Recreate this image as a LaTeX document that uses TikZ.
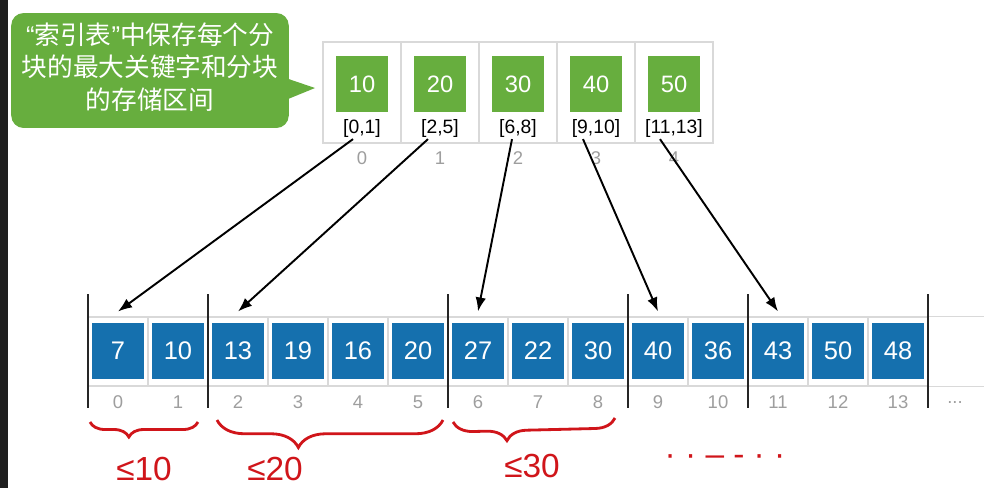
\documentclass[tikz,border=0pt]{standalone}
\usepackage{fontspec}
\setmainfont{Liberation Sans}
\newfontfamily\cjk{Noto Sans CJK SC}
\usetikzlibrary{positioning,arrows.meta,decorations.pathreplacing}
\definecolor{idxgreen}{HTML}{67AE3E}
\definecolor{blkblue}{HTML}{1570AE}
\definecolor{cellgray}{HTML}{D9D9D9}
\definecolor{numgray}{HTML}{9E9E9E}
\definecolor{penred}{HTML}{D0151A}
\tikzset{
	topcell/.style={draw=cellgray,line width=0.6pt,minimum width=1.56cm,minimum height=2.02cm,inner sep=0pt},
	keybox/.style={fill=idxgreen,text=white,minimum width=1.04cm,minimum height=1.12cm,inner sep=0pt,font=\fontsize{13.5}{14}\selectfont},
	rangelbl/.style={font=\fontsize{11}{12}\selectfont,inner sep=1pt},
	numlbl/.style={text=numgray,font=\fontsize{10.5}{12}\selectfont,inner sep=0pt},
	arrcell/.style={draw=cellgray,line width=0.6pt,minimum width=1.2cm,minimum height=1.38cm,inner sep=0pt},
	elembox/.style={fill=blkblue,text=white,minimum width=1.04cm,minimum height=1.12cm,inner sep=0pt,font=\fontsize{14.5}{15}\selectfont},
	bubble/.style={fill=idxgreen,text=white,rounded corners=0.25cm,minimum width=5.52cm,minimum height=2.3cm,inner sep=0pt,font=\cjk\fontsize{14.6}{18.4}\selectfont},
	divider/.style={line width=1.3pt,black!85},
	pointer/.style={line width=1.1pt,-{Latex[length=8pt,width=6pt]}},
	handnote/.style={text=penred,inner sep=0pt,font=\fontsize{19}{20}\selectfont}
}
\begin{document}
\begin{tikzpicture}[x=0.02cm,y=-0.02cm]
		\fill[white] (0,0) rectangle (984,488);
		\useasboundingbox (0,0) rectangle (984,488);
		\fill[black!88] (0,0) rectangle (8,488);
	
		\node[bubble] (note) at (150,70.5){\begin{tabular}{c}{\rmfamily“}索引表{\rmfamily”}中保存每个分\\块的最大关键字和分块\\的存储区间\end{tabular}};
		\coordinate (tip) at (315,88);
		\fill[idxgreen] ([xshift=-2pt,yshift=-0.15cm]note.east) -- (tip) -- ([xshift=-2pt,yshift=-0.59cm]note.east) -- cycle;
		
		\foreach \v/\r [count=\k from 0] in {10/{[0,1]},20/{[2,5]},30/{[6,8]},40/{[9,10]},50/{[11,13]}}{
			\node[topcell] (t\k) at ({362+78*\k},92.5){};
			\node[keybox] (k\k) at ({362+78*\k},84){\v};
			\node[rangelbl] (r\k) at ({362+78*\k},128){\r};
			\node[numlbl] (n\k) at ({362+78*\k},158){\k};
		}
		
		\foreach \v [count=\k from 0] in {7,10,13,19,16,20,27,22,30,40,36,43,50,48}{
			\node[arrcell] (c\k) at ({118+60*\k},351.5){};
			\node[elembox] (a\k) at ({118+60*\k},351){\v};
			\node[numlbl] (m\k) at ({118+60*\k},402){\k};
		}
		\coordinate (rightedge) at (984,0);
		\draw[cellgray,line width=0.6pt] (c13.north east) -- (c13.north east -| rightedge);
		\draw[cellgray,line width=0.6pt] (c13.south east) -- (c13.south east -| rightedge);
		\node[numlbl] (more) at (955,403){...};
		
		\foreach \x in {88,208,448,628,748,928}
			\draw[divider] (\x,294) -- (\x,408);
		
		\draw[pointer] ([xshift=-0.18cm]r0.south) -- ([yshift=0.1cm]c0.north);
		\draw[pointer] ([xshift=-0.24cm]r1.south) -- ([yshift=0.1cm]c2.north);
		\draw[pointer] ([xshift=-0.12cm]r2.south) -- ([yshift=0.1cm]c6.north);
		\draw[pointer] ([xshift=-0.26cm]r3.south) -- ([yshift=0.1cm]c9.north);
		\draw[pointer] ([xshift=-0.28cm]r4.south) -- ([yshift=0.1cm]c11.north);
		
		\draw[penred,line width=1.6pt,decorate,decoration={brace,mirror,amplitude=0.3cm,aspect=0.36}] (90,422) -- (198,422);
		\draw[penred,line width=1.6pt,decorate,decoration={brace,mirror,amplitude=0.55cm,aspect=0.36}] (217,420) -- (443,420);
		\draw[penred,line width=1.6pt,decorate,decoration={brace,mirror,amplitude=0.4cm,aspect=0.33}] (453,422) -- (615,418);
		
		\node[handnote] (le10) at (144,469){≤10};
		\node[handnote] (le20) at (275,469){≤20};
		\node[handnote] (le30) at (532,466){≤30};
		\node[handnote] (etc) at (725,460){· · – - · ·};
	\end{tikzpicture}
\end{document}
